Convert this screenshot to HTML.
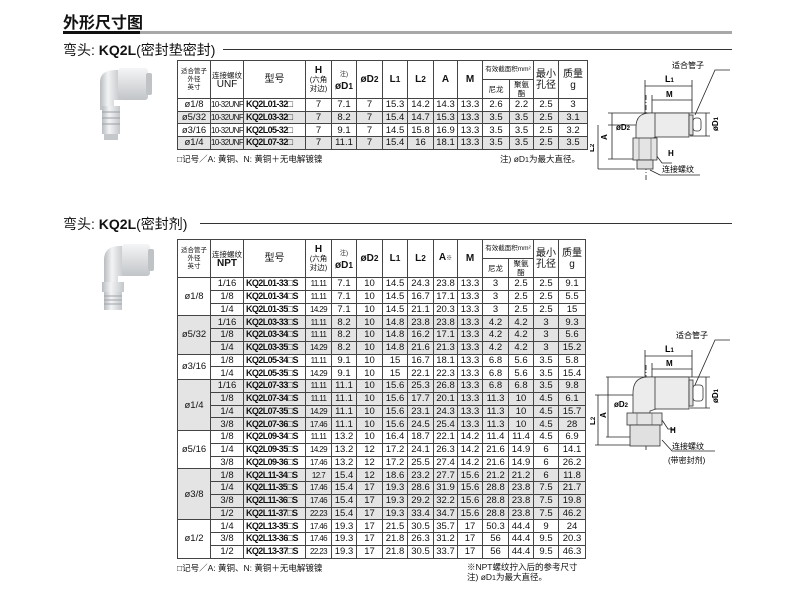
<!DOCTYPE html>
<html><head><meta charset="utf-8">
<style>
body{margin:0;width:790px;height:594px;background:#fff;position:relative;overflow:hidden;font-family:"Liberation Sans","Noto Sans CJK SC",sans-serif;color:#111}
.abs{position:absolute}
table{border-collapse:collapse;table-layout:fixed;position:absolute}
td{border:1px solid #444;padding:0;text-align:center;font-size:9.5px;line-height:11px;white-space:nowrap;overflow:hidden}
tr.d td{height:11.7px}
tr.d2 td{height:11.75px}
.g td,td.g{background:#e4e4e4}
.m{font-weight:bold;font-size:9px;letter-spacing:-0.6px;text-align:left;padding-left:2px}
.t{font-size:8px;letter-spacing:-0.6px}
.h{font-size:6.5px;line-height:8px}
.hb{font-weight:bold;font-size:10px}
.sm{font-size:7.5px;line-height:9px}
.gt{border-top:1.6px solid #333}
</style></head><body>
<div class="abs" style="left:63px;top:9px;font-size:16px;font-weight:bold">外形尺寸图</div>
<div class="abs" style="left:63px;top:31px;width:77px;height:3px;background:#111"></div>
<div class="abs" style="left:140px;top:31px;width:592px;height:3px;background:#a8a8a8"></div>

<div class="abs" style="left:63px;top:40px;font-size:14px"><span>弯头: </span><b>KQ2L</b>(密封垫密封)</div>
<div class="abs" style="left:223px;top:49px;width:509px;height:1px;background:#333"></div>

<div class="abs" style="left:63px;top:214px;font-size:14px"><span>弯头: </span><b>KQ2L</b>(密封剂)</div>
<div class="abs" style="left:200px;top:223px;width:532px;height:1px;background:#333"></div>

<!-- photos -->
<svg class="abs" style="left:90px;top:62px" width="70" height="85">
<defs><linearGradient id="gr" x1="0" x2="1"><stop offset="0" stop-color="#b8bcc0"/><stop offset=".4" stop-color="#f2f3f4"/><stop offset="1" stop-color="#c4c7ca"/></linearGradient>
<linearGradient id="gv" x1="0" y1="0" x2="0" y2="1"><stop offset="0" stop-color="#f4f5f6"/><stop offset="1" stop-color="#c2c5c8"/></linearGradient></defs>
<path d="M10 20 Q10 8 26 8 L30 8 L30 38 L24 38 L24 48 L10 48 Z" fill="url(#gr)"/>
<rect x="28" y="6" width="30" height="32" rx="3" fill="url(#gv)"/>
<rect x="56" y="11" width="6" height="22" rx="2" fill="#bfc3c6"/>
<rect x="12" y="44" width="18" height="28" fill="url(#gr)"/>
<g stroke="#9aa0a4" stroke-width="1"><line x1="12" y1="50" x2="30" y2="50"/><line x1="12" y1="56" x2="30" y2="56"/><line x1="12" y1="62" x2="30" y2="62"/></g>
<rect x="14" y="72" width="14" height="6" fill="#c5c8cb"/>
</svg>
<svg class="abs" style="left:92px;top:238px" width="70" height="80">
<path d="M12 22 Q12 8 28 8 L32 8 L32 38 L26 38 L26 46 L12 46 Z" fill="url(#gr)"/>
<rect x="30" y="6" width="28" height="32" rx="3" fill="url(#gv)"/>
<rect x="56" y="11" width="6" height="22" rx="2" fill="#bfc3c6"/>
<rect x="10" y="44" width="22" height="10" fill="url(#gr)"/>
<rect x="12" y="54" width="18" height="18" fill="url(#gr)"/>
<g stroke="#a0a5a9"><line x1="12" y1="58" x2="30" y2="58"/><line x1="12" y1="62" x2="30" y2="62"/><line x1="12" y1="66" x2="30" y2="66"/></g>
</svg>

<!-- table 1 -->
<table style="left:177px;top:60px;width:411px">
<colgroup><col style="width:33px"><col style="width:33px"><col style="width:62px"><col style="width:26px"><col style="width:25px"><col style="width:26px"><col style="width:25px"><col style="width:26px"><col style="width:24px"><col style="width:25px"><col style="width:27px"><col style="width:24px"><col style="width:25px"><col style="width:29px"></colgroup>
<tr><td rowspan="2" class="h" style="height:37px">适合管子<br>外径<br>英寸</td><td rowspan="2" class="sm">连接螺纹<br><span style="font-size:10px">UNF</span></td><td rowspan="2" style="font-size:10px">型号</td><td rowspan="2" class="sm"><b style="font-size:10px">H</b><br>(六角<br>对边)</td><td rowspan="2" class="hb"><span style="font-size:6px;font-weight:normal">注)</span><br>øD<small>1</small></td><td rowspan="2" class="hb">øD<small>2</small></td><td rowspan="2" class="hb">L<small>1</small></td><td rowspan="2" class="hb">L<small>2</small></td><td rowspan="2" class="hb">A</td><td rowspan="2" class="hb">M</td><td colspan="2" class="h" style="height:18px">有效截面积mm²</td><td rowspan="2" style="font-size:10px;line-height:11px">最小<br>孔径</td><td rowspan="2" style="font-size:10px;line-height:11px">质量<br>g</td></tr>
<tr><td class="sm">尼龙</td><td class="sm">聚氨<br>酯</td></tr>
<tr class="d"><td>ø1/8</td><td class="t">10-32UNF</td><td class="m">KQ2L01-32□</td><td>7</td><td>7.1</td><td>7</td><td>15.3</td><td>14.2</td><td>14.3</td><td>13.3</td><td>2.6</td><td>2.2</td><td>2.5</td><td>3</td></tr>
<tr class="d g"><td>ø5/32</td><td class="t">10-32UNF</td><td class="m">KQ2L03-32□</td><td>7</td><td>8.2</td><td>7</td><td>15.4</td><td>14.7</td><td>15.3</td><td>13.3</td><td>3.5</td><td>3.5</td><td>2.5</td><td>3.1</td></tr>
<tr class="d"><td>ø3/16</td><td class="t">10-32UNF</td><td class="m">KQ2L05-32□</td><td>7</td><td>9.1</td><td>7</td><td>14.5</td><td>15.8</td><td>16.9</td><td>13.3</td><td>3.5</td><td>3.5</td><td>2.5</td><td>3.2</td></tr>
<tr class="d g"><td>ø1/4</td><td class="t">10-32UNF</td><td class="m">KQ2L07-32□</td><td>7</td><td>11.1</td><td>7</td><td>15.4</td><td>16</td><td>18.1</td><td>13.3</td><td>3.5</td><td>3.5</td><td>2.5</td><td>3.5</td></tr>
</table>
<div class="abs" style="left:177px;top:153px;font-size:8.5px">□记号／A: 黄铜、N: 黄铜＋无电解镀镍</div>
<div class="abs" style="left:500px;top:153px;font-size:8.5px">注) øD<small>1</small>为最大直径。</div>

<!-- table 2 -->
<table style="left:177px;top:239px;width:408px">
<colgroup><col style="width:33px"><col style="width:33px"><col style="width:62px"><col style="width:26px"><col style="width:25px"><col style="width:26px"><col style="width:25px"><col style="width:26px"><col style="width:24px"><col style="width:25px"><col style="width:26px"><col style="width:25px"><col style="width:25px"><col style="width:27px"></colgroup>
<tr><td rowspan="2" class="h" style="height:37px">适合管子<br>外径<br>英寸</td><td rowspan="2" class="sm">连接螺纹<br><span style="font-size:10px;font-weight:bold">NPT</span></td><td rowspan="2" style="font-size:10px">型号</td><td rowspan="2" class="sm"><b style="font-size:10px">H</b><br>(六角<br>对边)</td><td rowspan="2" class="hb"><span style="font-size:6px;font-weight:normal">注)</span><br>øD<small>1</small></td><td rowspan="2" class="hb">øD<small>2</small></td><td rowspan="2" class="hb">L<small>1</small></td><td rowspan="2" class="hb">L<small>2</small></td><td rowspan="2" class="hb">A<span style="font-size:6px">※</span></td><td rowspan="2" class="hb">M</td><td colspan="2" class="h" style="height:18px">有效截面积mm²</td><td rowspan="2" style="font-size:10px;line-height:11px">最小<br>孔径</td><td rowspan="2" style="font-size:10px;line-height:11px">质量<br>g</td></tr>
<tr><td class="sm">尼龙</td><td class="sm">聚氨<br>酯</td></tr>
<tr class="d2"><td rowspan="3" class="gt">ø1/8</td><td>1/16</td><td class="m">KQ2L01-33□S</td><td class="t">11.11</td><td>7.1</td><td>10</td><td>14.5</td><td>24.3</td><td>23.8</td><td>13.3</td><td>3</td><td>2.5</td><td>2.5</td><td>9.1</td></tr>
<tr class="d2"><td>1/8</td><td class="m">KQ2L01-34□S</td><td class="t">11.11</td><td>7.1</td><td>10</td><td>14.5</td><td>16.7</td><td>17.1</td><td>13.3</td><td>3</td><td>2.5</td><td>2.5</td><td>5.5</td></tr>
<tr class="d2"><td>1/4</td><td class="m">KQ2L01-35□S</td><td class="t">14.29</td><td>7.1</td><td>10</td><td>14.5</td><td>21.1</td><td>20.3</td><td>13.3</td><td>3</td><td>2.5</td><td>2.5</td><td>15</td></tr>
<tr class="d2 g"><td rowspan="3" class="gt">ø5/32</td><td class="gt">1/16</td><td class="m gt">KQ2L03-33□S</td><td class="t gt">11.11</td><td class="gt">8.2</td><td class="gt">10</td><td class="gt">14.8</td><td class="gt">23.8</td><td class="gt">23.8</td><td class="gt">13.3</td><td class="gt">4.2</td><td class="gt">4.2</td><td class="gt">3</td><td class="gt">9.3</td></tr>
<tr class="d2 g"><td>1/8</td><td class="m">KQ2L03-34□S</td><td class="t">11.11</td><td>8.2</td><td>10</td><td>14.8</td><td>16.2</td><td>17.1</td><td>13.3</td><td>4.2</td><td>4.2</td><td>3</td><td>5.6</td></tr>
<tr class="d2 g"><td>1/4</td><td class="m">KQ2L03-35□S</td><td class="t">14.29</td><td>8.2</td><td>10</td><td>14.8</td><td>21.6</td><td>21.3</td><td>13.3</td><td>4.2</td><td>4.2</td><td>3</td><td>15.2</td></tr>
<tr class="d2"><td rowspan="2" class="gt">ø3/16</td><td class="gt">1/8</td><td class="m gt">KQ2L05-34□S</td><td class="t gt">11.11</td><td class="gt">9.1</td><td class="gt">10</td><td class="gt">15</td><td class="gt">16.7</td><td class="gt">18.1</td><td class="gt">13.3</td><td class="gt">6.8</td><td class="gt">5.6</td><td class="gt">3.5</td><td class="gt">5.8</td></tr>
<tr class="d2"><td>1/4</td><td class="m">KQ2L05-35□S</td><td class="t">14.29</td><td>9.1</td><td>10</td><td>15</td><td>22.1</td><td>22.3</td><td>13.3</td><td>6.8</td><td>5.6</td><td>3.5</td><td>15.4</td></tr>
<tr class="d2 g"><td rowspan="4" class="gt">ø1/4</td><td class="gt">1/16</td><td class="m gt">KQ2L07-33□S</td><td class="t gt">11.11</td><td class="gt">11.1</td><td class="gt">10</td><td class="gt">15.6</td><td class="gt">25.3</td><td class="gt">26.8</td><td class="gt">13.3</td><td class="gt">6.8</td><td class="gt">6.8</td><td class="gt">3.5</td><td class="gt">9.8</td></tr>
<tr class="d2 g"><td>1/8</td><td class="m">KQ2L07-34□S</td><td class="t">11.11</td><td>11.1</td><td>10</td><td>15.6</td><td>17.7</td><td>20.1</td><td>13.3</td><td>11.3</td><td>10</td><td>4.5</td><td>6.1</td></tr>
<tr class="d2 g"><td>1/4</td><td class="m">KQ2L07-35□S</td><td class="t">14.29</td><td>11.1</td><td>10</td><td>15.6</td><td>23.1</td><td>24.3</td><td>13.3</td><td>11.3</td><td>10</td><td>4.5</td><td>15.7</td></tr>
<tr class="d2 g"><td>3/8</td><td class="m">KQ2L07-36□S</td><td class="t">17.46</td><td>11.1</td><td>10</td><td>15.6</td><td>24.5</td><td>25.4</td><td>13.3</td><td>11.3</td><td>10</td><td>4.5</td><td>28</td></tr>
<tr class="d2"><td rowspan="3" class="gt">ø5/16</td><td class="gt">1/8</td><td class="m gt">KQ2L09-34□S</td><td class="t gt">11.11</td><td class="gt">13.2</td><td class="gt">10</td><td class="gt">16.4</td><td class="gt">18.7</td><td class="gt">22.1</td><td class="gt">14.2</td><td class="gt">11.4</td><td class="gt">11.4</td><td class="gt">4.5</td><td class="gt">6.9</td></tr>
<tr class="d2"><td>1/4</td><td class="m">KQ2L09-35□S</td><td class="t">14.29</td><td>13.2</td><td>12</td><td>17.2</td><td>24.1</td><td>26.3</td><td>14.2</td><td>21.6</td><td>14.9</td><td>6</td><td>14.1</td></tr>
<tr class="d2"><td>3/8</td><td class="m">KQ2L09-36□S</td><td class="t">17.46</td><td>13.2</td><td>12</td><td>17.2</td><td>25.5</td><td>27.4</td><td>14.2</td><td>21.6</td><td>14.9</td><td>6</td><td>26.2</td></tr>
<tr class="d2 g"><td rowspan="4" class="gt">ø3/8</td><td class="gt">1/8</td><td class="m gt">KQ2L11-34□S</td><td class="t gt">12.7</td><td class="gt">15.4</td><td class="gt">12</td><td class="gt">18.6</td><td class="gt">23.2</td><td class="gt">27.7</td><td class="gt">15.6</td><td class="gt">21.2</td><td class="gt">21.2</td><td class="gt">6</td><td class="gt">11.8</td></tr>
<tr class="d2 g"><td>1/4</td><td class="m">KQ2L11-35□S</td><td class="t">17.46</td><td>15.4</td><td>17</td><td>19.3</td><td>28.6</td><td>31.9</td><td>15.6</td><td>28.8</td><td>23.8</td><td>7.5</td><td>21.7</td></tr>
<tr class="d2 g"><td>3/8</td><td class="m">KQ2L11-36□S</td><td class="t">17.46</td><td>15.4</td><td>17</td><td>19.3</td><td>29.2</td><td>32.2</td><td>15.6</td><td>28.8</td><td>23.8</td><td>7.5</td><td>19.8</td></tr>
<tr class="d2 g"><td>1/2</td><td class="m">KQ2L11-37□S</td><td class="t">22.23</td><td>15.4</td><td>17</td><td>19.3</td><td>33.4</td><td>34.7</td><td>15.6</td><td>28.8</td><td>23.8</td><td>7.5</td><td>46.2</td></tr>
<tr class="d2"><td rowspan="3" class="gt">ø1/2</td><td class="gt">1/4</td><td class="m gt">KQ2L13-35□S</td><td class="t gt">17.46</td><td class="gt">19.3</td><td class="gt">17</td><td class="gt">21.5</td><td class="gt">30.5</td><td class="gt">35.7</td><td class="gt">17</td><td class="gt">50.3</td><td class="gt">44.4</td><td class="gt">9</td><td class="gt">24</td></tr>
<tr class="d2"><td>3/8</td><td class="m">KQ2L13-36□S</td><td class="t">17.46</td><td>19.3</td><td>17</td><td>21.8</td><td>26.3</td><td>31.2</td><td>17</td><td>56</td><td>44.4</td><td>9.5</td><td>20.3</td></tr>
<tr class="d2"><td>1/2</td><td class="m">KQ2L13-37□S</td><td class="t">22.23</td><td>19.3</td><td>17</td><td>21.8</td><td>30.5</td><td>33.7</td><td>17</td><td>56</td><td>44.4</td><td>9.5</td><td>46.3</td></tr>
</table>
<div class="abs" style="left:177px;top:562px;font-size:8.5px">□记号／A: 黄铜、N: 黄铜＋无电解镀镍</div>
<div class="abs" style="left:467px;top:562px;font-size:8.5px;line-height:10px">※NPT螺纹拧入后的参考尺寸<br>注) øD<small>1</small>为最大直径。</div>

<!-- diagram 1 -->
<svg class="abs" style="left:590px;top:55px" width="140" height="130" font-family="Liberation Sans, Noto Sans CJK SC, sans-serif">
<g stroke="#222" stroke-width="0.8" fill="none">
<line x1="55" y1="25" x2="55" y2="60"/><line x1="102" y1="25" x2="102" y2="58"/>
<line x1="55" y1="31" x2="102" y2="31"/><line x1="62" y1="40" x2="62" y2="58"/>
<line x1="62" y1="45" x2="102" y2="45"/>
<line x1="18" y1="58" x2="120" y2="58"/><line x1="100" y1="81" x2="120" y2="81"/>
<line x1="116" y1="58" x2="116" y2="81"/>
<line x1="18" y1="70" x2="50" y2="70"/><line x1="18" y1="104" x2="45" y2="104"/>
<line x1="8" y1="70" x2="8" y2="114"/><line x1="22" y1="58" x2="22" y2="104"/>
<line x1="8" y1="114" x2="45" y2="114"/>
<path d="M105 60 L125 15 L140 15"/>
<path d="M60 92 L72 108 L82 108"/>
<path d="M60 115 L70 120 L110 120"/>
<line x1="56" y1="40" x2="56" y2="125" stroke-dasharray="5 2 1 2"/>
</g>
<path d="M46 72 Q46 58 60 58 L66 58 L66 82 L60 84 L60 90 L46 90 Z" fill="#ececec" stroke="#333" stroke-width="0.8"/>
<rect x="65" y="58" width="34" height="24" fill="#ececec" stroke="#333" stroke-width="0.8"/>
<rect x="99" y="60" width="4" height="20" fill="#ddd" stroke="#333" stroke-width="0.8"/>
<rect x="103" y="63" width="8" height="13" rx="3" fill="#fff" stroke="#333" stroke-width="0.8"/>
<rect x="43" y="83" width="24" height="22" fill="#e4e4e4" stroke="#333" stroke-width="0.8"/>
<g stroke="#555" stroke-width="0.6"><line x1="49" y1="83" x2="49" y2="105"/><line x1="61" y1="83" x2="61" y2="105"/></g>
<rect x="47" y="105" width="16" height="9" fill="#ddd" stroke="#333" stroke-width="0.8"/>
<text x="75" y="27" font-size="9" font-weight="bold">L<tspan font-size="6">1</tspan></text>
<text x="76" y="42" font-size="8" font-weight="bold">M</text>
<text x="26" y="75" font-size="8" font-weight="bold">øD<tspan font-size="6">2</tspan></text>
<text x="82" y="13" font-size="8">适合管子</text>
<text x="78" y="101" font-size="8" font-weight="bold">H</text>
<text x="72" y="117" font-size="8">连接螺纹</text>
<text transform="translate(17,85) rotate(-90)" font-size="8" font-weight="bold">A</text>
<text transform="translate(4,97) rotate(-90)" font-size="8" font-weight="bold">L<tspan font-size="6">2</tspan></text>
<text transform="translate(128,76) rotate(-90)" font-size="8" font-weight="bold">øD<tspan font-size="6">1</tspan></text>
</svg>

<!-- diagram 2 -->
<svg class="abs" style="left:590px;top:325px" width="140" height="150" font-family="Liberation Sans, Noto Sans CJK SC, sans-serif">
<g stroke="#222" stroke-width="0.8" fill="none">
<line x1="55" y1="25" x2="55" y2="55"/><line x1="102" y1="25" x2="102" y2="52"/>
<line x1="55" y1="31" x2="102" y2="31"/><line x1="62" y1="38" x2="62" y2="52"/>
<line x1="62" y1="44" x2="102" y2="44"/>
<line x1="16" y1="52" x2="120" y2="52"/><line x1="100" y1="83" x2="120" y2="83"/>
<line x1="116" y1="52" x2="116" y2="83"/>
<line x1="5" y1="70" x2="52" y2="70"/><line x1="16" y1="112" x2="40" y2="112"/>
<line x1="8" y1="70" x2="8" y2="120"/><line x1="18" y1="52" x2="18" y2="112"/>
<line x1="5" y1="120" x2="40" y2="120"/>
<path d="M105 60 L125 15 L140 15"/>
<path d="M72 95 L78 104 L85 104"/>
<path d="M72 115 L82 126 L125 126"/>
<line x1="56" y1="40" x2="56" y2="125" stroke-dasharray="5 2 1 2"/>
</g>
<path d="M43 68 Q43 52 58 52 L66 52 L66 84 L60 86 L60 88 L43 88 Z" fill="#ececec" stroke="#333" stroke-width="0.8"/>
<rect x="65" y="52" width="34" height="32" fill="#ececec" stroke="#333" stroke-width="0.8"/>
<rect x="99" y="55" width="4" height="26" fill="#ddd" stroke="#333" stroke-width="0.8"/>
<rect x="103" y="60" width="10" height="16" rx="3" fill="#fff" stroke="#333" stroke-width="0.8"/>
<rect x="37" y="88" width="35" height="12" fill="#e4e4e4" stroke="#333" stroke-width="0.8"/>
<g stroke="#555" stroke-width="0.6"><line x1="47" y1="88" x2="47" y2="100"/><line x1="62" y1="88" x2="62" y2="100"/></g>
<rect x="40" y="100" width="30" height="21" fill="#e0e0e0" stroke="#333" stroke-width="0.8"/>
<text x="75" y="27" font-size="9" font-weight="bold">L<tspan font-size="6">1</tspan></text>
<text x="76" y="41" font-size="8" font-weight="bold">M</text>
<text x="24" y="82" font-size="8" font-weight="bold">øD<tspan font-size="6">2</tspan></text>
<text x="86" y="13" font-size="8">适合管子</text>
<text x="80" y="108" font-size="8" font-weight="bold">H</text>
<text x="82" y="124" font-size="8">连接螺纹</text>
<text x="78" y="138" font-size="8">(带密封剂)</text>
<text transform="translate(16,93) rotate(-90)" font-size="8" font-weight="bold">A</text>
<text transform="translate(5,100) rotate(-90)" font-size="8" font-weight="bold">L<tspan font-size="6">2</tspan></text>
<text transform="translate(128,78) rotate(-90)" font-size="8" font-weight="bold">øD<tspan font-size="6">1</tspan></text>
</svg>
</body></html>
